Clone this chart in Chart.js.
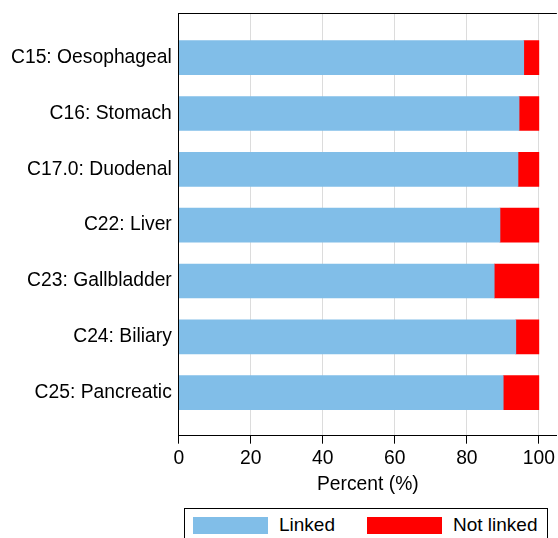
<!DOCTYPE html>
<html>
<head>
<meta charset="utf-8">
<script src="https://cdn.jsdelivr.net/npm/chart.js@4"></script>
<style>
  html,body{margin:0;padding:0;background:#fff;overflow:hidden;}
  #wrap{position:relative;width:558px;height:538px;}
  #box{position:absolute;left:0;top:0;width:558px;height:500px;}
  #legend{position:absolute;left:184px;top:508px;width:364px;height:40px;border:1px solid #000;box-sizing:border-box;
    font:19px "Liberation Sans",Arial,sans-serif;color:#000;}
  .sw{position:absolute;top:8px;width:75px;height:17px;}
  .lb{position:absolute;top:5px;white-space:nowrap;}
</style>
</head>
<body>
<div id="wrap">
  <div id="box"><canvas id="c"></canvas></div>
  <div id="legend"></div>
</div>
<script>
// data
const sites = ["C15: Oesophageal","C16: Stomach","C17.0: Duodenal","C22: Liver","C23: Gallbladder","C24: Biliary","C25: Pancreatic"];
const linked    = [95.8, 94.5, 94.2, 89.2, 87.6, 93.6, 90.1];
const notLinked = [4.2, 5.5, 5.8, 10.8, 12.4, 6.4, 9.9];
const xTicks = [0, 20, 40, 60, 80, 100];
const seriesNames = ["Linked", "Not linked"];
const seriesColors = ["#81BEE8", "#FF0000"];

const FONT = {family:'"Liberation Sans", Arial, sans-serif', size:19.3};

// top frame line
const frame = {
  id:"frame",
  afterDraw(chart){
    const {ctx, chartArea:a} = chart;
    ctx.save();
    ctx.strokeStyle="#000"; ctx.lineWidth=1;
    ctx.beginPath(); ctx.moveTo(a.left, a.top+0.5); ctx.lineTo(a.right, a.top+0.5); ctx.stroke();
    ctx.restore();
  }
};

new Chart(document.getElementById("c"), {
  type:"bar",
  data:{
    datasets:[linked, notLinked].map((arr,k)=>({
      label:seriesNames[k],
      data:arr.map((v,i)=>({x:v, y:i})),
      backgroundColor:seriesColors[k],
      borderWidth:0,
      barThickness:34
    }))
  },
  options:{
    indexAxis:"y",
    responsive:true, maintainAspectRatio:false, animation:false,
    layout:{padding:{left:4, top:13, right:1, bottom:4}},
    plugins:{legend:{display:false}, tooltip:{enabled:false}},
    scales:{
      x:{
        stacked:true, min:0, max:105,
        afterBuildTicks:s=>{ s.ticks = xTicks.map(v=>({value:v})); },
        grid:{color:"#dcdcdc", tickColor:"#000", tickLength:8, lineWidth:1},
        border:{color:"#000", width:1},
        ticks:{color:"#000", font:FONT, padding:3, maxRotation:0},
        title:{display:true, text:"Percent (%)", color:"#000", font:FONT, padding:{top:0,bottom:0}}
      },
      y:{
        type:"linear", stacked:true, reverse:true, offset:false, min:-0.80, max:6.77,
        afterBuildTicks:s=>{ s.ticks = sites.map((_,i)=>({value:i})); },
        afterFit:s=>{ s.paddingTop = 0; s.paddingBottom = 0; },
        grid:{display:false, drawTicks:false},
        border:{color:"#000", width:1},
        ticks:{color:"#000", font:FONT, padding:7, callback:v=>sites[v]}
      }
    }
  },
  plugins:[frame]
});

// legend box
const lg = document.getElementById("legend");
const swX = [8, 182], txtX = [94, 268];
seriesNames.forEach((n,k)=>{
  const s=document.createElement("div"); s.className="sw"; s.style.left=swX[k]+"px"; s.style.background=seriesColors[k]; lg.appendChild(s);
  const t=document.createElement("div"); t.className="lb"; t.style.left=txtX[k]+"px"; t.textContent=n; lg.appendChild(t);
});
</script>
</body>
</html>
